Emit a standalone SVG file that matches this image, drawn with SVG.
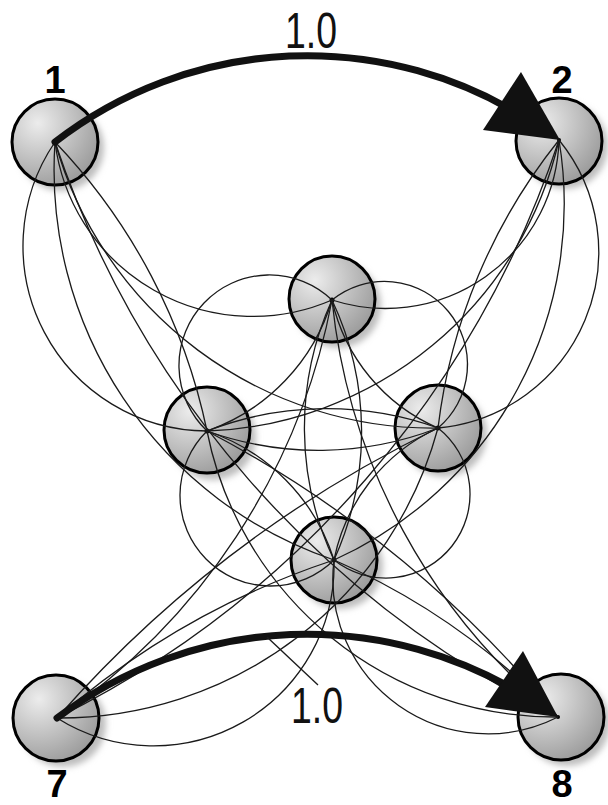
<svg xmlns="http://www.w3.org/2000/svg" width="608" height="805" viewBox="0 0 608 805">
<defs>
<radialGradient id="nodeFill" cx="0.3" cy="0.28" r="0.85">
<stop offset="0" stop-color="#ececec"/>
<stop offset="1" stop-color="#959595"/>
</radialGradient>
<filter id="shadow" x="-30%" y="-30%" width="160%" height="160%">
<feGaussianBlur stdDeviation="3"/>
</filter>
<style>
.node-shadow{fill:#bdbdbd;filter:url(#shadow)}
.node-circle{fill:url(#nodeFill);stroke:#000;stroke-width:3}
.node-dot{fill:#000}
.node-label{font-family:"Liberation Sans",Arial,sans-serif;font-weight:bold;font-size:38px;fill:#000;text-anchor:middle}
.edge{fill:none;stroke:#1a1a1a;stroke-width:1.3}
.thick{fill:none;stroke:#111;stroke-width:7;stroke-linecap:round}
.head{fill:#111}
.weight{font-family:"Liberation Sans",Arial,sans-serif;font-size:50px;fill:#111}
.leader{stroke:#1a1a1a;stroke-width:1.3}
</style>
</defs>
<rect x="0" y="0" width="608" height="805" fill="#ffffff"/>

<g id="node1">
<circle class="node-shadow" cx="61" cy="148" r="43"/>
<circle class="node-circle" cx="55" cy="142" r="43"/>
<circle class="node-dot" cx="55" cy="142" r="2"/>
<text class="node-label" x="55" y="93">1</text>
</g>
<g id="node2">
<circle class="node-shadow" cx="565" cy="146" r="43"/>
<circle class="node-circle" cx="559" cy="141" r="43"/>
<circle class="node-dot" cx="559" cy="140" r="2"/>
<text class="node-label" x="562" y="93">2</text>
</g>
<g id="node3">
<circle class="node-shadow" cx="338" cy="305" r="43"/>
<circle class="node-circle" cx="332" cy="299" r="43"/>
<circle class="node-dot" cx="332" cy="300" r="2.5"/>
</g>
<g id="node4">
<circle class="node-shadow" cx="213" cy="437" r="43"/>
<circle class="node-circle" cx="207" cy="430" r="43"/>
<circle class="node-dot" cx="207" cy="431" r="2.5"/>
</g>
<g id="node5">
<circle class="node-shadow" cx="444" cy="434" r="43"/>
<circle class="node-circle" cx="438" cy="428" r="43"/>
<circle class="node-dot" cx="438" cy="428" r="2.5"/>
</g>
<g id="node6">
<circle class="node-shadow" cx="340" cy="566" r="43"/>
<circle class="node-circle" cx="334" cy="560" r="43"/>
<circle class="node-dot" cx="334" cy="560" r="2.5"/>
</g>
<g id="node7">
<circle class="node-shadow" cx="63" cy="724" r="43"/>
<circle class="node-circle" cx="56" cy="718" r="43"/>
<circle class="node-dot" cx="57" cy="718" r="2"/>
<text class="node-label" x="57" y="797">7</text>
</g>
<g id="node8">
<circle class="node-shadow" cx="567" cy="723" r="43"/>
<circle class="node-circle" cx="561" cy="717" r="43"/>
<circle class="node-dot" cx="558" cy="717" r="2"/>
<text class="node-label" x="562" y="797">8</text>
</g>

<g id="connectors">
<path class="edge" d="M55,142 A199.3,199.3 0 0 0 332,300"/>
<path class="edge" d="M559,140 A173.6,173.6 0 0 1 332,300"/>
<path class="edge" d="M55,142 A185,185 0 0 0 207,431"/>
<path class="edge" d="M559,140 A177,177 0 0 1 438,428"/>
<path class="edge" d="M55,142 A392,392 0 0 0 438,428"/>
<path class="edge" d="M559,140 A374.5,374.5 0 0 1 207,431"/>
<path class="edge" d="M55,142 A412,412 0 0 0 334,560"/>
<path class="edge" d="M559,140 A390.7,390.7 0 0 1 334,560"/>
<path class="edge" d="M55,142 A993,993 0 0 0 558,717"/>
<path class="edge" d="M559,140 A995,995 0 0 1 57,718"/>
<path class="edge" d="M55,142 A594,594 0 0 1 207,431"/>
<path class="edge" d="M559,140 A569,569 0 0 0 438,428"/>

<path class="edge" d="M332,300 A90.5,90.5 0 0 0 207,431"/>
<path class="edge" d="M332,300 A83.1,83.1 0 0 1 438,428"/>
<path class="edge" d="M207,431 A90.5,90.5 0 0 0 334,560"/>
<path class="edge" d="M438,428 A84,84 0 0 1 334,560"/>
<path class="edge" d="M332,300 A199,199 0 0 1 207,431"/>
<path class="edge" d="M332,300 A183,183 0 0 0 438,428"/>
<path class="edge" d="M207,431 A199,199 0 0 1 334,560"/>
<path class="edge" d="M438,428 A185,185 0 0 0 334,560"/>
<path class="edge" d="M332,300 A310,310 0 0 0 334,560"/>
<path class="edge" d="M332,300 A310,310 0 0 1 334,560"/>
<path class="edge" d="M207,431 A331,331 0 0 0 438,428"/>
<path class="edge" d="M207,431 A331,331 0 0 1 438,428"/>

<path class="edge" d="M57,718 A180.7,180.7 0 0 0 334,560"/>
<path class="edge" d="M558,717 A155,155 0 0 1 334,560"/>
<path class="edge" d="M57,718 A805,805 0 0 1 334,560"/>
<path class="edge" d="M558,717 A690,690 0 0 0 334,560"/>
<path class="edge" d="M57,718 A392.6,392.6 0 0 0 438,428"/>
<path class="edge" d="M558,717 A355,355 0 0 1 207,431"/>
<path class="edge" d="M57,718 A1209,1209 0 0 1 438,428"/>
<path class="edge" d="M558,717 A1143,1143 0 0 0 207,431"/>
<path class="edge" d="M57,718 A650,650 0 0 0 332,300"/>
<path class="edge" d="M558,717 A616.6,616.6 0 0 1 332,300"/>

<path class="thick" d="M55,142 A412,412 0 0 1 530,121"/>
<polygon class="head" points="560,140 521,72 483,130"/>
<text class="weight" x="311" y="48" text-anchor="middle" textLength="52" lengthAdjust="spacingAndGlyphs">1.0</text>

<path class="thick" d="M57,718 A415.5,415.5 0 0 1 530,699"/>
<polygon class="head" points="558,717 523,651 485,707"/>
<line class="leader" x1="267" y1="637" x2="318" y2="685"/>
<text class="weight" x="317" y="723" text-anchor="middle" textLength="52" lengthAdjust="spacingAndGlyphs">1.0</text>
</g>
</svg>
